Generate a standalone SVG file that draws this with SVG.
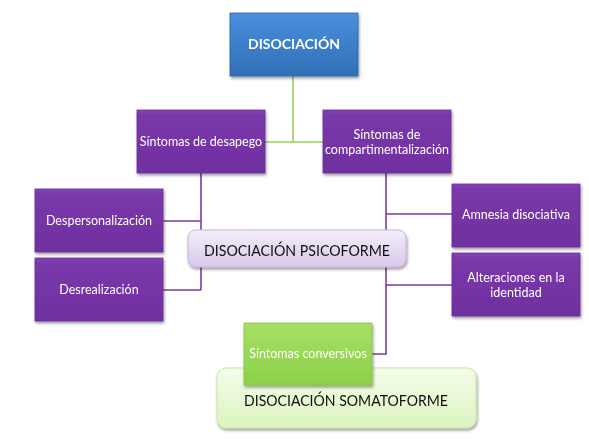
<svg xmlns="http://www.w3.org/2000/svg" width="589" height="441" viewBox="0 0 589 441">
<defs>
<linearGradient id="gPurple" x1="0" y1="0" x2="0" y2="1">
<stop offset="0" stop-color="#8446b4"/>
<stop offset="0.08" stop-color="#7a38aa"/>
<stop offset="1" stop-color="#7030a0"/>
</linearGradient>
<linearGradient id="gBlue" x1="0" y1="0" x2="0" y2="1">
<stop offset="0" stop-color="#4a8fdc"/>
<stop offset="1" stop-color="#2f6fb6"/>
</linearGradient>
<linearGradient id="gGreen" x1="0" y1="0" x2="0" y2="1">
<stop offset="0" stop-color="#a6e066"/>
<stop offset="1" stop-color="#8cd04a"/>
</linearGradient>
<linearGradient id="gLav" x1="0" y1="0" x2="0" y2="1">
<stop offset="0" stop-color="#f4eefa"/>
<stop offset="1" stop-color="#d9c9ea"/>
</linearGradient>
<linearGradient id="gLGreen" x1="0" y1="0" x2="0" y2="1">
<stop offset="0" stop-color="#f4fce9"/>
<stop offset="1" stop-color="#dcf4c0"/>
</linearGradient>
<filter id="sh" x="-10%" y="-10%" width="125%" height="130%">
<feGaussianBlur in="SourceAlpha" stdDeviation="1.5"/>
<feOffset dx="1" dy="2" result="b"/>
<feComponentTransfer><feFuncA type="linear" slope="0.4"/></feComponentTransfer>
<feMerge><feMergeNode/><feMergeNode in="SourceGraphic"/></feMerge>
</filter>
</defs>
<style>
.p{fill:url(#gPurple);stroke:#6a2c98;stroke-width:0.8}
.t{font-family:Lato,"Open Sans","Liberation Sans",sans-serif;font-size:12.5px;fill:#fff;text-anchor:middle;dominant-baseline:central}
.big{font-family:Lato,"Open Sans","Liberation Sans",sans-serif;font-size:16px;fill:#111;text-anchor:middle;dominant-baseline:central}
.lp{stroke:#7a3aa8;stroke-width:1.6;fill:none}
.lg{stroke:#9bcf5a;stroke-width:1.6;fill:none}
</style>
<rect width="589" height="441" fill="#fff"/>
<g id="connectors">
<path class="lg" d="M293 76 V142 M265 142 H323"/>
<path class="lp" d="M201 173 V290 M163 221 H201 M163 290 H201"/>
<path class="lp" d="M386 173 V354 H372 M386 214 H452 M386 285 H452"/>
</g>
<g id="n-disociacion" filter="url(#sh)">
<rect x="230" y="13" width="128" height="63" fill="url(#gBlue)" stroke="#2c64a6" stroke-width="0.8"/>
<text class="t" x="294" y="44" font-weight="bold" font-size="15.5" textLength="92" lengthAdjust="spacingAndGlyphs">DISOCIACIÓN</text>
</g>
<g id="n-desapego" filter="url(#sh)">
<rect class="p" x="137" y="110" width="128" height="63"/>
<text class="t" x="201" y="141">Síntomas de desapego</text>
</g>
<g id="n-compart" filter="url(#sh)">
<rect class="p" x="323" y="110" width="128" height="63"/>
<text class="t" x="387" y="134">Síntomas de</text>
<text class="t" x="387" y="149">compartimentalización</text>
</g>
<g id="n-despers" filter="url(#sh)">
<rect class="p" x="35" y="189" width="128" height="63"/>
<text class="t" x="99" y="220">Despersonalización</text>
</g>
<g id="n-desreal" filter="url(#sh)">
<rect class="p" x="35" y="258" width="128" height="63"/>
<text class="t" x="99" y="289">Desrealización</text>
</g>
<g id="n-amnesia" filter="url(#sh)">
<rect class="p" x="452" y="184" width="128" height="63"/>
<text class="t" x="516" y="214">Amnesia disociativa</text>
</g>
<g id="n-alteraciones" filter="url(#sh)">
<rect class="p" x="452" y="253" width="128" height="63"/>
<text class="t" x="516" y="277">Alteraciones en la</text>
<text class="t" x="516" y="292">identidad</text>
</g>
<g id="n-psicoforme" filter="url(#sh)">
<rect x="188" y="230" width="218" height="37" rx="8" fill="url(#gLav)" stroke="#c6b3dc" stroke-width="1"/>
<text class="big" x="297" y="249" textLength="186" lengthAdjust="spacingAndGlyphs">DISOCIACIÓN PSICOFORME</text>
</g>
<g id="n-somatoforme" filter="url(#sh)">
<rect x="217" y="368" width="259" height="60" rx="9" fill="url(#gLGreen)" stroke="#c8e6a6" stroke-width="1"/>
<text class="big" x="346" y="399" textLength="204" lengthAdjust="spacingAndGlyphs">DISOCIACIÓN SOMATOFORME</text>
</g>
<g id="n-conversivos" filter="url(#sh)">
<rect x="244" y="323" width="128" height="62" fill="url(#gGreen)" stroke="#86c444" stroke-width="0.8"/>
<text class="t" x="308" y="353">Síntomas conversivos</text>
</g>
</svg>
